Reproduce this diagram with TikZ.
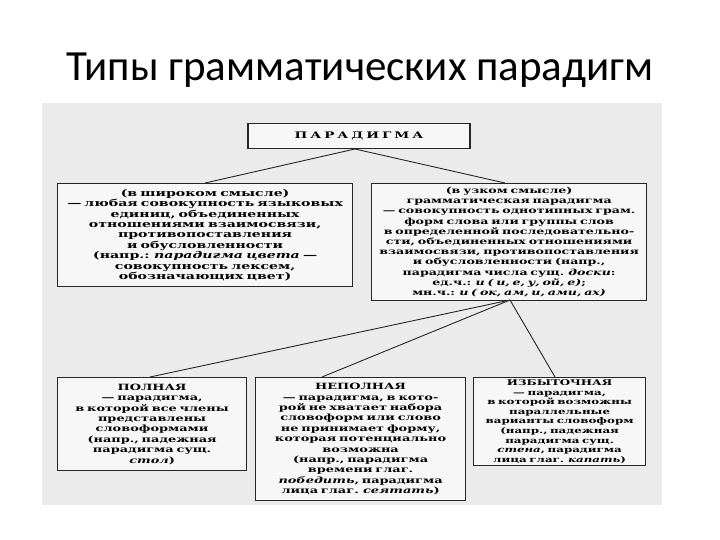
\documentclass[tikz,border=0pt]{standalone}
\usepackage{fontspec}
\setmainfont{DejaVu Serif}[FakeStretch=1.5]
\newfontfamily\titlefont{Carlito}
\begin{document}
\begin{tikzpicture}[x=1pt,y=-1pt,
  bx/.style={draw=black!85,line width=1.2pt,fill=black!3,align=center,font=\fontsize{9.4}{10.4}\selectfont\bfseries,inner sep=1pt},
  ln/.style={draw=black!85,line width=0.9pt}]
\useasboundingbox[fill=white] (0,0) rectangle (720,540);
\node[font=\titlefont\fontsize{43}{48}\selectfont] (title) at (360,70) {Типы грамматических парадигм};
\fill[black!8] (42,103) rectangle (662,505);
\node[bx,minimum width=222pt,minimum height=25pt,font=\fontsize{9}{10}\selectfont\bfseries] (top) at (359,136) {П\,\,А\,\,Р\,\,А\,\,Д\,\,И\,\,Г\,\,М\,\,А};
\node[bx,anchor=north west,text width=293pt,minimum height=103pt] (L) at (57,183)
{(в широком смысле)\\— любая совокупность языковых\\единиц, объединенных\\отношениями взаимосвязи,\\противопоставления\\и обусловленности\\(напр.: \textit{парадигма цвета} —\\совокупность лексем,\\обозначающих цвет)};
\node[bx,anchor=north west,text width=273pt,minimum height=117pt,font=\fontsize{8.4}{10.2}\selectfont\bfseries] (R) at (371,183)
{(в узком смысле)\\грамматическая парадигма\\— совокупность однотипных грам.\\форм слова или группы слов\\в определенной последовательно-\\сти, объединенных отношениями\\взаимосвязи, противопоставления\\и обусловленности (напр.,\\парадигма числа сущ. \textit{доски}:\\ед.ч.: \textit{и ( и, е, у, ой, е)};\\мн.ч.: \textit{и ( ок, ам, и, ами, ах)}};
\node[bx,anchor=north west,text width=187pt,minimum height=93pt,font=\fontsize{8.6}{10.4}\selectfont\bfseries] (A) at (57,377)
{ПОЛНАЯ\\— парадигма,\\в которой все члены\\представлены\\словоформами\\(напр., падежная\\парадигма сущ.\\\textit{стол})};
\node[bx,anchor=north west,text width=208pt,minimum height=123pt,font=\fontsize{8.6}{10.4}\selectfont\bfseries] (B) at (255,377)
{НЕПОЛНАЯ\\— парадигма, в кото-\\рой не хватает набора\\словоформ или слово\\не принимает форму,\\которая потенциально\\возможна\\(напр., парадигма\\времени глаг.\\\textit{победить}, парадигма\\лица глаг. \textit{сеятать})};
\node[bx,anchor=north west,text width=170pt,minimum height=88pt,font=\fontsize{7.9}{9.6}\selectfont\bfseries] (C) at (473,377)
{ИЗБЫТОЧНАЯ\\— парадигма,\\в которой возможны\\параллельные\\варианты словоформ\\(напр., падежная\\парадигма сущ.\\\textit{стена}, парадигма\\лица глаг. \textit{капать})};
\coordinate (t1) at (355,149);
\coordinate (r1) at (510,300);
\draw[ln] (t1) -- (L.north -| 205,0);
\draw[ln] (t1) -- (R.north -| 505,0);
\draw[ln] (r1) -- (A.north -| 150,0);
\draw[ln] (r1) -- (B.north -| 322,0);
\draw[ln] (r1) -- (C.north -| 555,0);
\end{tikzpicture}
\end{document}
